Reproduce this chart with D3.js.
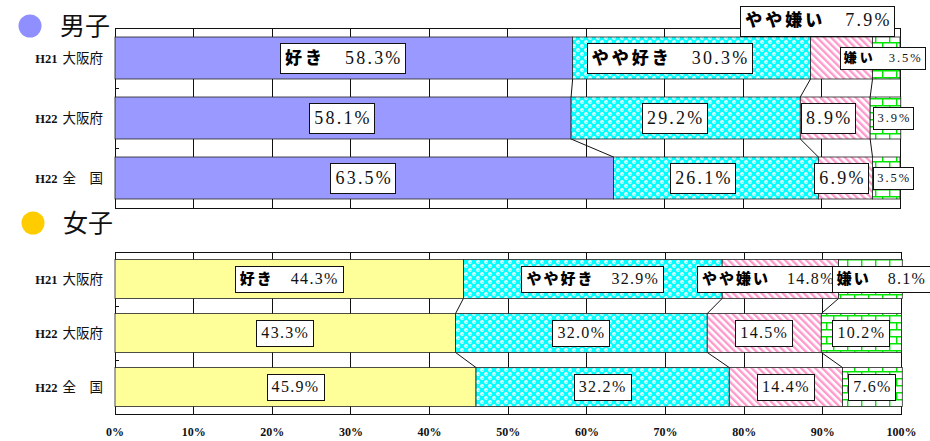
<!DOCTYPE html>
<html lang="ja">
<head>
<meta charset="utf-8">
<script src="https://cdn.jsdelivr.net/npm/d3@7"></script>
<style>
  html, body { margin: 0; padding: 0; background: #fff; }
  svg { display: block; }
</style>
</head>
<body>
<svg id="chart" width="930" height="441"></svg>
<script>
// Survey rows and answer categories
const categories = ["H21 大阪府", "H22 大阪府", "H22 全　国"];
const answerNames = ["好き", "やや好き", "やや嫌い", "嫌い"];

// 男子 (boys), percent per answer
const boysLike       = [58.3, 58.1, 63.5];
const boysSomeLike   = [30.3, 29.2, 26.1];
const boysSomeDislike = [7.9, 8.9, 6.9];
const boysDislike    = [3.5, 3.9, 3.5];

// 女子 (girls), percent per answer
const girlsLike       = [44.3, 43.3, 45.9];
const girlsSomeLike   = [32.9, 32.0, 32.2];
const girlsSomeDislike = [14.8, 14.5, 14.4];
const girlsDislike    = [8.1, 10.2, 7.6];

const xTickValues = [0, 10, 20, 30, 40, 50, 60, 70, 80, 90, 100];

const svg = d3.select("#chart");
const keys = ["k0", "k1", "k2", "k3"];

function rowsFrom(a, b, c, d) {
  return categories.map((cat, i) => ({ cat, k0: a[i], k1: b[i], k2: c[i], k3: d[i] }));
}

// ---- fill patterns ----
const defs = svg.append("defs");

// cyan "bubbles"
const pBub = defs.append("pattern").attr("id", "bubbles")
  .attr("patternUnits", "userSpaceOnUse").attr("width", 8).attr("height", 8);
pBub.append("rect").attr("width", 8).attr("height", 8).attr("fill", "#00ffff");
[[0, 0], [4, 4]].forEach(([x, y]) => {
  pBub.append("circle").attr("cx", x + 2).attr("cy", y + 2).attr("r", 1.9).attr("fill", "#ffffff");
  pBub.append("circle").attr("cx", x + 2.3).attr("cy", y + 2.4).attr("r", 0.8).attr("fill", "#66ffff");
});

// pink diagonal stripes
const pStr = defs.append("pattern").attr("id", "stripes")
  .attr("patternUnits", "userSpaceOnUse").attr("width", 5).attr("height", 5)
  .attr("patternTransform", "rotate(-45)");
pStr.append("rect").attr("width", 5).attr("height", 5).attr("fill", "#ffffff");
pStr.append("rect").attr("x", 0).attr("width", 2.4).attr("height", 5).attr("fill", "#ff99cc");

// green bricks
const pBrk = defs.append("pattern").attr("id", "bricks")
  .attr("patternUnits", "userSpaceOnUse").attr("width", 14).attr("height", 14);
pBrk.append("rect").attr("width", 14).attr("height", 14).attr("fill", "#ffffff");
pBrk.append("path")
  .attr("d", "M0,0.7H14M0,7.7H14M0.7,0.7V7.7M7.7,7.7V14.7")
  .attr("stroke", "#00e600").attr("stroke-width", 1.4).attr("fill", "none");

const serif = "'Liberation Serif','DejaVu Serif',serif";
const cjk = "'Noto Sans CJK JP','Noto Sans CJK SC',sans-serif";

// ---- one stacked panel ----
function drawPanel(cfg) {
  const data = rowsFrom(...cfg.series);
  const stacked = d3.stack().keys(keys)(data);

  const x = d3.scaleLinear().domain([0, 100]).range(cfg.xRange);
  const y = d3.scaleBand().domain(categories).range(cfg.yRange)
    .paddingInner(cfg.padInner).paddingOuter(cfg.padInner / 2);

  const g = svg.append("g");
  const [y0, y1] = cfg.yRange;

  // vertical gridlines
  g.append("g").selectAll("line").data(xTickValues.slice(1, -1)).join("line")
    .attr("x1", d => x(d)).attr("x2", d => x(d)).attr("y1", y0).attr("y2", y1)
    .attr("stroke", "#111").attr("stroke-width", 1).attr("shape-rendering", "crispEdges");

  // plot frame
  g.append("path")
    .attr("d", `M${x(0)},${y0}H${x(100)}V${y1}H${x(0)}Z`)
    .attr("fill", "none").attr("stroke", "#111").attr("stroke-width", 1)
    .attr("shape-rendering", "crispEdges");

  // category tick marks between rows
  const step = y.step();
  g.append("g").selectAll("line").data([1, 2]).join("line")
    .attr("x1", x(0)).attr("x2", x(0) + 4)
    .attr("y1", i => y0 + i * step).attr("y2", i => y0 + i * step)
    .attr("stroke", "#111").attr("shape-rendering", "crispEdges");

  // series lines joining segment boundaries of adjacent rows
  const sl = g.append("g");
  for (let s = 0; s < 3; s++) {
    for (let r = 0; r < 2; r++) {
      const a = data[r], b = data[r + 1];
      const ca = stacked[s][r][1], cb = stacked[s][r + 1][1];
      sl.append("line")
        .attr("x1", x(ca)).attr("y1", y(a.cat) + y.bandwidth())
        .attr("x2", x(cb)).attr("y2", y(b.cat))
        .attr("stroke", "#111").attr("stroke-width", 1);
    }
  }

  // bars
  const fills = [cfg.likeColor, "url(#bubbles)", "url(#stripes)", "url(#bricks)"];
  stacked.forEach((layer, s) => {
    g.append("g").selectAll("rect").data(layer).join("rect")
      .attr("x", d => x(d[0]))
      .attr("width", d => x(d[1]) - x(d[0]))
      .attr("y", d => y(d.data.cat))
      .attr("height", y.bandwidth())
      .attr("fill", fills[s])
      .attr("stroke", "#222").attr("stroke-width", 0.8);
  });

  // data labels
  const lg = svg.append("g");
  stacked.forEach((layer, s) => {
    layer.forEach((d, r) => {
      const small = cfg.smallSeries === s;
      const nameSize = small ? cfg.smallNameSize : cfg.nameSize;
      const valSize = small ? cfg.smallValSize : cfg.valSize;
      const valLs = small ? cfg.smallValLs : cfg.valLs;
      const boxH = small ? cfg.smallBoxH : cfg.boxH;
      const nudge = cfg.nudge[r][s];
      const cx = (x(d[0]) + x(d[1])) / 2 + nudge[0];
      const cy = y(d.data.cat) + y.bandwidth() / 2 + nudge[1];
      const value = d[1] - d[0];

      const lab = lg.append("g");
      const rect = lab.append("rect").attr("fill", "#fff").attr("stroke", "#111").attr("stroke-width", 1);
      const t = lab.append("text").attr("x", cx).attr("y", cy + valSize * 0.33)
        .attr("text-anchor", "middle");
      const v = value.toFixed(1) + "%";
      if (r === 0) {
        t.append("tspan").text(answerNames[s])
          .attr("font-family", cjk).attr("font-weight", 900)
          .attr("font-size", nameSize).attr("letter-spacing", cfg.nameLs);
        t.append("tspan").text(v).attr("dx", small ? cfg.smallGap : cfg.gap);
      } else {
        t.append("tspan").text(v);
      }
      t.selectAll("tspan:last-child")
        .attr("font-family", serif).attr("font-size", valSize)
        .attr("letter-spacing", valLs).attr("fill", "#111");
      const bb = t.node().getBBox();
      const padX = small ? 4 : 5;
      rect.attr("x", Math.round(bb.x - padX) + 0.5)
        .attr("y", Math.round(cy - boxH / 2) + 0.5)
        .attr("width", Math.round(bb.width + padX * 2 - valLs))
        .attr("height", boxH);
    });
  });

  // row labels
  const rl = svg.append("g");
  categories.forEach(cat => {
    const parts = cat.split(" ");
    const t = rl.append("text").attr("x", 103).attr("y", y(cat) + y.bandwidth() / 2 + 4.5)
      .attr("text-anchor", "end").attr("fill", "#111");
    t.append("tspan").text(parts[0]).attr("font-family", serif).attr("font-weight", "bold").attr("font-size", 12.5);
    t.append("tspan").text(parts.slice(1).join(" ")).attr("dx", 5)
      .attr("font-family", cjk).attr("font-size", 13.5);
  });

  // panel heading
  svg.append("circle").attr("cx", cfg.head[0]).attr("cy", cfg.head[1]).attr("r", 11.5)
    .attr("fill", cfg.bullet);
  svg.append("text").attr("x", cfg.head[0] + 30).attr("y", cfg.head[1] + 9)
    .attr("font-family", cjk).attr("font-size", 25).attr("fill", "#111").text(cfg.title);

  return x;
}

const zero = [0, 0];
drawPanel({
  title: "男子", bullet: "#8f8fff", head: [30, 26],
  series: [boysLike, boysSomeLike, boysSomeDislike, boysDislike],
  likeColor: "#9999ff",
  xRange: [115, 900], yRange: [28, 208], padInner: 0.3,
  nameSize: 17, nameLs: 3, gap: 20, valSize: 18, valLs: 2.2, boxH: 30,
  smallSeries: 3, smallNameSize: 13, smallValSize: 12.5, smallValLs: 2, smallBoxH: 22, smallGap: 13,
  nudge: [
    [zero, [-21, 0], [-23, -37.5], [-3, 0]],
    [zero, [-10, 0], [-6, 0], [9, 0]],
    [zero, [-12, 0], [-3, 0], [8, 0]]
  ]
});

const xFemale = drawPanel({
  title: "女子", bullet: "#ffcc00", head: [33, 223],
  series: [girlsLike, girlsSomeLike, girlsSomeDislike, girlsDislike],
  likeColor: "#ffff99",
  xRange: [115, 901.5], yRange: [252, 414], padInner: 0.28,
  nameSize: 15, nameLs: 2, gap: 17, valSize: 16, valLs: 1.3, boxH: 26,
  smallSeries: -1, smallNameSize: 13, smallValSize: 12, smallValLs: 2, smallBoxH: 22, smallGap: 10,
  nudge: [
    [zero, zero, [-12, 0], [11, 0]],
    [zero, zero, zero, zero],
    [zero, zero, zero, zero]
  ]
});

// percentage axis under the lower panel
svg.append("g").selectAll("text").data(xTickValues).join("text")
  .attr("x", d => xFemale(d)).attr("y", 436)
  .attr("text-anchor", "middle")
  .attr("font-family", serif).attr("font-weight", "bold").attr("font-size", 12)
  .attr("fill", "#111")
  .text(d => d + "%");
</script>
</body>
</html>
